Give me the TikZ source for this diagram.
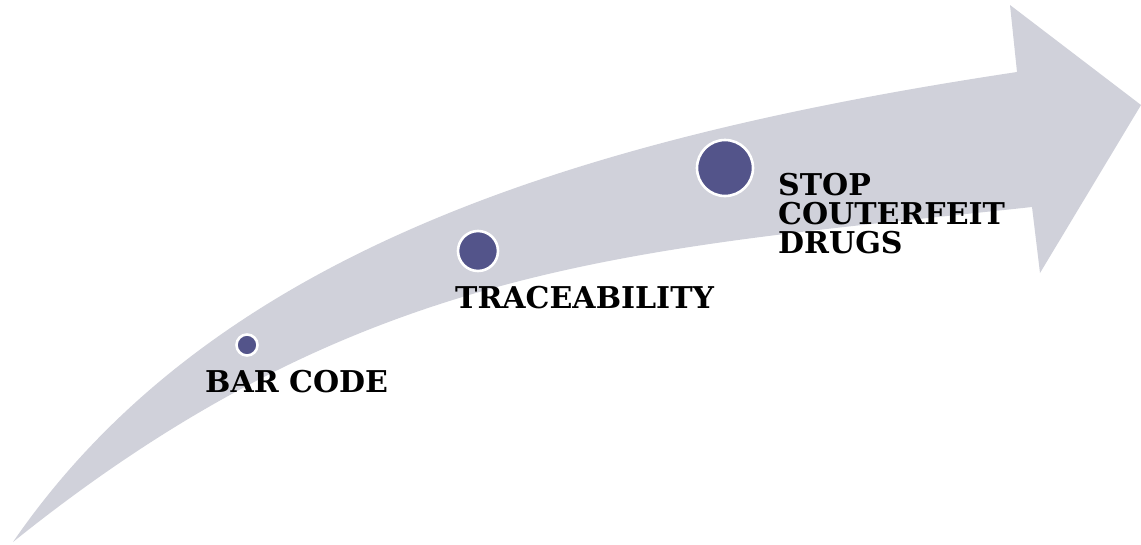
\documentclass[tikz,border=0pt]{standalone}
\usepackage{fontspec}
\setmainfont{DejaVu Serif}
\definecolor{arrowgray}{RGB}{208,209,218}
\definecolor{dotblue}{RGB}{83,84,138}
\tikzset{
  dot/.style={circle, fill=dotblue, draw=white, line width=2.6pt, inner sep=0pt},
  lbl/.style={font=\bfseries\fontsize{30}{29}\selectfont, inner sep=0pt, text=black, align=left}
}
\begin{document}
\begin{tikzpicture}[x=1pt,y=-1pt]
\useasboundingbox (0,0) rectangle (1141,544);
% curved arrow
\fill[arrowgray] (13,542) .. controls (211,254) and (572,139) .. (1017,72)
  -- (1010,5) -- (1141,105) -- (1040,273) -- (1032,207)
  .. controls (634,250) and (364,260) .. (13,542) -- cycle;
% dots
\node[dot, minimum size=21pt] (d1) at (247,345) {};
\node[dot, minimum size=40pt] (d2) at (478,251) {};
\node[dot, minimum size=56pt] (d3) at (725,168) {};
% labels
\node[lbl, anchor=base west] (t1) at (205,392) {BAR CODE};
\node[lbl, anchor=base west] (t2) at (455,308) {TRACEABILITY};
\node[lbl, anchor=north west] (t3) at (778,173) {STOP\\COUTERFEIT\\DRUGS};
\end{tikzpicture}
\end{document}
